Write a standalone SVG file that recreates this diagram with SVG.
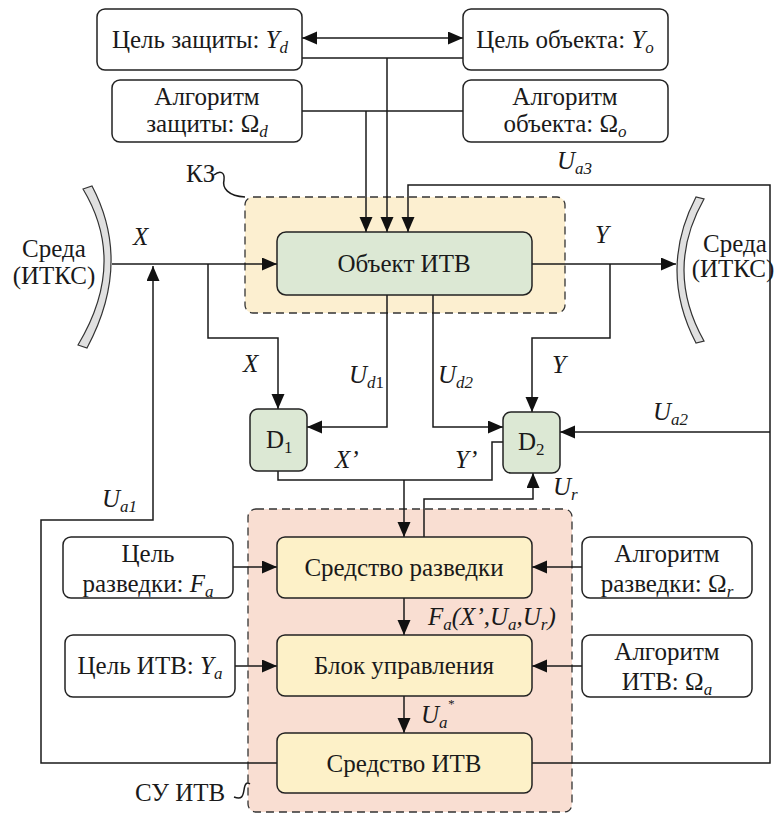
<svg xmlns="http://www.w3.org/2000/svg" width="774" height="818" viewBox="0 0 774 818">
<style>
text{font-size:25px;fill:#1a1a1a}
.c{text-anchor:middle}
.i{font-style:italic}
.s{font-size:17px}
.box{fill:#fff;stroke:#222;stroke-width:1.5}
.grn{fill:#dce8d4;stroke:#222;stroke-width:1.5}
.yel{fill:#fdf1c8;stroke:#222;stroke-width:1.5}
.ln{fill:none;stroke:#1a1a1a;stroke-width:1.5}
.ar{marker-end:url(#a)}
.arc{fill:#e0e0e0;stroke:#333;stroke-width:1.2}
</style>
<defs>
<marker id="a" markerUnits="userSpaceOnUse" markerWidth="16" markerHeight="14" refX="15" refY="6.5" orient="auto-start-reverse">
<path d="M0,0 L15,6.5 L0,13 z" fill="#111"/>
</marker>
</defs>

<g id="kz-zone">
<rect x="245" y="197" width="320" height="116" rx="8" fill="#fcefd0" stroke="#333" stroke-width="1.3" stroke-dasharray="8,5"/>
<path class="ln" d="M214,175 C220,170 225,172 224,180 C222,188 228,196 245,197" stroke-width="1.2"/>
</g>
<g id="su-zone">
<rect x="248" y="509" width="324" height="303" rx="8" fill="#f9ded2" stroke="#333" stroke-width="1.3" stroke-dasharray="8,5"/>
<path class="ln" d="M234,797 C242,800 243,796 244,790 C245,783 247,782 250,784" stroke-width="1.2"/>
</g>

<g id="connectors">
<path class="ln ar" d="M302,38 H463" marker-start="url(#a)"/>
<path class="ln" d="M302,58 H463"/>
<path class="ln ar" d="M387,58 V232"/>
<path class="ln" d="M302,111 H463"/>
<path class="ln ar" d="M366,111 V232"/>
<path class="ln ar" d="M532,763 H770 V185 H408 V232"/>
<path class="ln ar" d="M770,432 H560"/>
<path class="ln ar" d="M277,763 H41 V520 H153 V266"/>
<path class="ln ar" d="M112,264 H277"/>
<path class="ln ar" d="M208,264 V338 H278 V409"/>
<path class="ln ar" d="M387,295 V427 H307"/>
<path class="ln ar" d="M433,295 V427 H503"/>
<path class="ln ar" d="M532,264 H676"/>
<path class="ln ar" d="M610,264 V338 H532 V412"/>
<path class="ln" d="M278,471 V480 H492 V442 H503"/>
<path class="ln ar" d="M404,480 V537"/>
<path class="ln ar" d="M424,537 V499 H533 V473"/>
<path class="ln ar" d="M404,598 V635"/>
<path class="ln ar" d="M404,696 V733"/>
<path class="ln ar" d="M233,567 H277"/>
<path class="ln ar" d="M235,666 H277"/>
<path class="ln ar" d="M582,567 H532"/>
<path class="ln ar" d="M582,666 H532"/>
</g>

<g id="env-left">
<path class="arc" d="M92,186 Q132.5,263 87,348 L78,345 Q127.5,263 83,189 Z"/>
</g>
<g id="env-right">
<path class="arc" d="M696,197 Q658,270 696,343 L704,341 Q664,270 704,199 Z"/>
</g>

<g id="goal-def"><rect class="box" x="97" y="9" width="205" height="61" rx="8"/></g>
<g id="goal-obj"><rect class="box" x="463" y="9" width="205" height="61" rx="8"/></g>
<g id="alg-def"><rect class="box" x="112" y="80" width="190" height="62" rx="8"/></g>
<g id="alg-obj"><rect class="box" x="463" y="80" width="205" height="62" rx="8"/></g>
<g id="object"><rect class="grn" x="277" y="232" width="255" height="63" rx="9"/></g>
<g id="d1"><rect class="grn" x="250" y="409" width="57" height="62" rx="8"/></g>
<g id="d2"><rect class="grn" x="503" y="412" width="57" height="61" rx="8"/></g>
<g id="recon"><rect class="yel" x="277" y="537" width="255" height="61" rx="8"/></g>
<g id="control"><rect class="yel" x="277" y="635" width="255" height="61" rx="8"/></g>
<g id="itv"><rect class="yel" x="277" y="733" width="255" height="60" rx="8"/></g>
<g id="goal-recon"><rect class="box" x="63" y="537" width="170" height="61" rx="8"/></g>
<g id="goal-itv"><rect class="box" x="65" y="635" width="170" height="62" rx="8"/></g>
<g id="alg-recon"><rect class="box" x="582" y="537" width="170" height="61" rx="8"/></g>
<g id="alg-itv"><rect class="box" x="582" y="635" width="170" height="62" rx="8"/></g>

<g id="texts" font-family="Liberation Serif, Times New Roman, serif">
<text x="186" y="182">КЗ</text>
<text x="135" y="801">СУ ИТВ</text>
<text x="133" y="245" class="i">X</text>
<text x="243" y="372" class="i">X</text>
<text x="349" y="383" class="i">U<tspan class="s" dy="5">d</tspan><tspan class="s" font-style="normal">1</tspan></text>
<text x="438" y="383" class="i">U<tspan class="s" dy="5">d2</tspan></text>
<text x="595" y="243" class="i">Y</text>
<text x="552" y="373" class="i">Y</text>
<text x="653" y="420" class="i">U<tspan class="s" dy="5">a2</tspan></text>
<text x="557" y="169" class="i">U<tspan class="s" dy="5">a3</tspan></text>
<text x="102" y="507" class="i">U<tspan class="s" dy="5">a1</tspan></text>
<text x="335" y="468" class="i">X’</text>
<text x="455" y="468" class="i">Y’</text>
<text x="553" y="495" class="i">U<tspan class="s" dy="5">r</tspan></text>
<text x="428" y="625" class="i">F<tspan class="s" dy="5">a</tspan><tspan dy="-5">(X’,U</tspan><tspan class="s" dy="5">a</tspan><tspan dy="-5">,U</tspan><tspan class="s" dy="5">r</tspan><tspan dy="-5">)</tspan></text>
<text x="421" y="723" class="i">U<tspan class="s" dy="5">a</tspan><tspan font-size="13" dy="-20">*</tspan></text>
<text x="54" y="257" class="c">Среда</text>
<text x="54" y="284" class="c">(ИТКС)</text>
<text x="735" y="252" class="c">Среда</text>
<text x="733" y="277" class="c">(ИТКС)</text>
<text x="200" y="48" class="c">Цель защиты: <tspan class="i">Y</tspan><tspan class="i s" dy="5">d</tspan></text>
<text x="565" y="48" class="c">Цель объекта: <tspan class="i">Y</tspan><tspan class="i s" dy="5">o</tspan></text>
<text x="207" y="105" class="c">Алгоритм</text>
<text x="207" y="132" class="c">защиты: Ω<tspan class="i s" dy="5">d</tspan></text>
<text x="565" y="105" class="c">Алгоритм</text>
<text x="565" y="132" class="c">объекта: Ω<tspan class="i s" dy="5">o</tspan></text>
<text x="404" y="272" class="c">Объект ИТВ</text>
<text x="266" y="448">D<tspan class="s" dy="5">1</tspan></text>
<text x="518" y="450">D<tspan class="s" dy="5">2</tspan></text>
<text x="404" y="576" class="c">Средство разведки</text>
<text x="404" y="674" class="c">Блок управления</text>
<text x="404" y="772" class="c">Средство ИТВ</text>
<text x="148" y="562" class="c">Цель</text>
<text x="148" y="592" class="c">разведки: <tspan class="i">F</tspan><tspan class="i s" dy="5">a</tspan></text>
<text x="150" y="674" class="c">Цель ИТВ: <tspan class="i">Y</tspan><tspan class="i s" dy="5">a</tspan></text>
<text x="667" y="562" class="c">Алгоритм</text>
<text x="667" y="592" class="c">разведки: Ω<tspan class="i s" dy="5">r</tspan></text>
<text x="667" y="660" class="c">Алгоритм</text>
<text x="667" y="690" class="c">ИТВ: Ω<tspan class="i s" dy="5">a</tspan></text>
</g>
</svg>
